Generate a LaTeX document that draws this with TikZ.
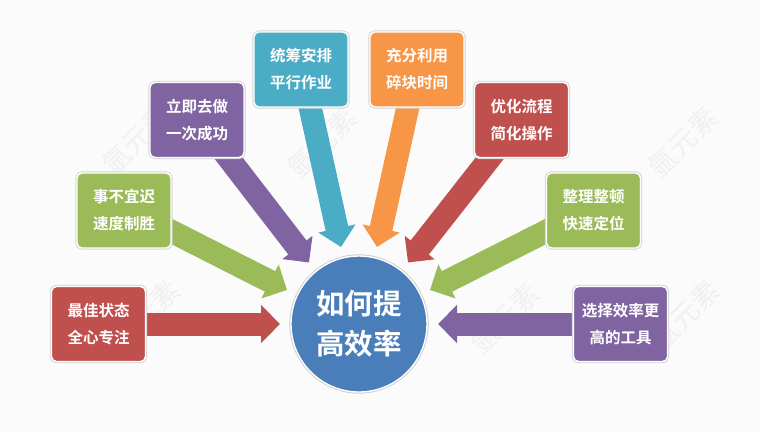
\documentclass[tikz,border=0pt]{standalone}
\usepackage{fontspec}
\setmainfont{Noto Sans CJK SC}[BoldFont={Noto Sans CJK SC Bold}]
\usetikzlibrary{arrows.meta}
\definecolor{cred}{HTML}{C0504D}
\definecolor{cgreen}{HTML}{9BBB59}
\definecolor{cpurple}{HTML}{8064A2}
\definecolor{cteal}{HTML}{4BACC6}
\definecolor{corange}{HTML}{F79646}
\definecolor{cblue}{HTML}{4A7EBB}
\definecolor{pagebg}{HTML}{FBFBFC}
\pgfdeclarelayer{arrowlayer}
\pgfsetlayers{arrowlayer,main}
\tikzset{
  x=1pt,y=-1pt,
  box/.style={rectangle,rounded corners=5pt,minimum width=94pt,minimum height=75pt,inner sep=0pt,
    fill=#1,draw=white,line width=1.4pt,text=white,align=center,font=\fontsize{15.5}{27}\bfseries\selectfont,
    preaction={draw=black!16,line width=3.4pt}},
  hubnode/.style={circle,minimum size=136pt,inner sep=0pt,fill=cblue,draw=white,line width=1.4pt,
    text=white,align=center,font=\fontsize{28.5}{40}\bfseries\selectfont,
    preaction={draw=black!20,line width=3.2pt}},
  arrowline/.style={draw=#1,line width=23pt,-{Triangle[length=19pt,width=37pt,fill=#1,color=#1]}},
  wmark/.style={text=black!6,font=\fontsize{28}{28}\selectfont,rotate=45,inner sep=0pt}
}
\begin{document}
\begin{tikzpicture}
\begin{pgfonlayer}{arrowlayer}
\fill[pagebg] (0,0) rectangle (760,432);
\node[wmark] (w1) at (137,139) {氩元素};
\node[wmark] (w2) at (145,315) {氩元素};
\node[wmark] (w3) at (322,143) {氩元素};
\node[wmark] (w4) at (505,318) {氩元素};
\node[wmark] (w5) at (683,142) {氩元素};
\node[wmark] (w6) at (685,315) {氩元素};
\end{pgfonlayer}
\useasboundingbox (0,0) rectangle (760,432);
\node[box=cred] (a) at (98.5,324) {最佳状态\\全心专注};
\node[box=cgreen] (b) at (124,210.5) {事不宜迟\\速度制胜};
\node[box=cpurple] (c) at (197,120) {立即去做\\一次成功};
\node[box=cteal] (d) at (301,69.5) {统筹安排\\平行作业};
\node[box=corange] (e) at (417,69.5) {充分利用\\碎块时间};
\node[box=cred] (f) at (521.5,120) {优化流程\\简化操作};
\node[box=cgreen] (g) at (593.5,210.5) {整理整顿\\快速定位};
\node[box=cpurple] (h) at (620.5,324) {选择效率更\\高的工具};
\node[hubnode] (hub) at (359,324) {如何提\\高效率};
\begin{pgfonlayer}{arrowlayer}
\draw[arrowline=cred] (a.center) -- ([shift={(-79,0)}]hub.center);
\draw[arrowline=cgreen] ([shift={(30,12)}]b.center) -- ([shift={(-72,-34)}]hub.center);
\draw[arrowline=cpurple] ([shift={(23,27)}]c.center) -- ([shift={(-50,-61.5)}]hub.center);
\draw[arrowline=cteal] ([shift={(7,28)}]d.center) -- ([shift={(-18,-77)}]hub.center);
\draw[arrowline=corange] ([shift={(-7,28)}]e.center) -- ([shift={(18,-77)}]hub.center);
\draw[arrowline=cred] ([shift={(-23,27)}]f.center) -- ([shift={(49,-61.5)}]hub.center);
\draw[arrowline=cgreen] ([shift={(-30,12)}]g.center) -- ([shift={(71,-34)}]hub.center);
\draw[arrowline=cpurple] (h.center) -- ([shift={(79,0)}]hub.center);
\end{pgfonlayer}
\end{tikzpicture}
\end{document}
